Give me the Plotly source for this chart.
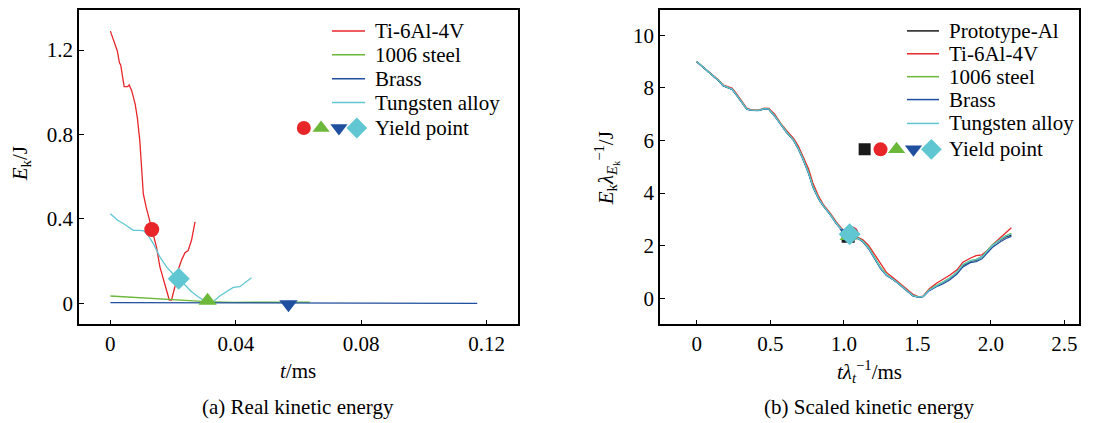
import plotly.graph_objects as go

FONT = "Liberation Serif, Times New Roman, Times, serif"
FS = 21

# ---------------- (a) Real kinetic energy ----------------
ti_t = [0, 0.0022, 0.0029, 0.0033, 0.0044, 0.0055, 0.006, 0.0068, 0.0079, 0.0086, 0.0094,
        0.0105, 0.0114, 0.0132, 0.0147, 0.0158, 0.0167, 0.0177, 0.0188, 0.0195, 0.0206,
        0.0216, 0.0227, 0.0238, 0.0248, 0.0259, 0.027]
ti_e = [1.29, 1.197, 1.14, 1.13, 1.027, 1.027, 1.035, 1.008, 0.945, 0.88, 0.77,
        0.52, 0.457, 0.35, 0.268, 0.173, 0.126, 0.079, 0.016, 0.016, 0.08,
        0.157, 0.205, 0.24, 0.25, 0.3, 0.386]

st_t = [0, 0.008, 0.018, 0.025, 0.0307, 0.039, 0.05, 0.0636]
st_e = [0.035, 0.028, 0.02, 0.013, 0.008, 0.005, 0.005, 0.006]

br_t = [0, 0.02, 0.04, 0.06, 0.08, 0.1, 0.117]
br_e = [0.004, 0.003, 0.002, 0.001, 0.0005, 0.0003, 0.0002]

tu_t = [0, 0.0023, 0.0045, 0.0073, 0.0094, 0.0107, 0.012, 0.0137, 0.0158, 0.0179, 0.02,
        0.0219, 0.0238, 0.0259, 0.028, 0.0301, 0.0328, 0.0349, 0.037, 0.0392, 0.0413,
        0.0434, 0.045]
tu_e = [0.425, 0.394, 0.375, 0.346, 0.346, 0.343, 0.323, 0.283, 0.22, 0.173, 0.139,
        0.117, 0.087, 0.055, 0.031, 0.011, 0.008, 0.035, 0.055, 0.076, 0.079,
        0.102, 0.121]

# yield points (a)
yp_a_t = [0.0132, 0.031, 0.0568, 0.0218]
yp_a_e = [0.35, 0.012, -0.004, 0.117]

# ---------------- (b) Scaled kinetic energy ----------------
sx = [0, 0.07, 0.15, 0.18, 0.21, 0.24, 0.27, 0.31, 0.34, 0.37, 0.42, 0.46, 0.49, 0.53,
      0.57, 0.61, 0.66, 0.69, 0.72, 0.76, 0.79, 0.83, 0.86, 0.91, 0.95, 1.0, 1.04, 1.07,
      1.10, 1.13, 1.17, 1.20, 1.25, 1.29, 1.34, 1.38, 1.43, 1.47, 1.51, 1.54, 1.58, 1.63,
      1.67, 1.72, 1.77, 1.81, 1.86, 1.90, 1.94, 1.97, 2.01, 2.06, 2.10, 2.14]
proto = [8.99, 8.67, 8.27, 8.08, 8.02, 7.95, 7.73, 7.42, 7.20, 7.15, 7.14, 7.21, 7.19, 6.93,
         6.60, 6.32, 6.00, 5.70, 5.33, 4.78, 4.25, 3.78, 3.52, 3.17, 2.84, 2.52, 2.40, 2.30,
         2.27, 2.16, 1.90, 1.60, 1.15, 0.88, 0.70, 0.52, 0.27, 0.10, 0.04, 0.07, 0.30, 0.47,
         0.58, 0.75, 0.98, 1.25, 1.40, 1.45, 1.58, 1.75, 2.00, 2.20, 2.33, 2.40]
ti_s = [8.99, 8.68, 8.29, 8.10, 8.04, 7.99, 7.78, 7.47, 7.23, 7.16, 7.15, 7.23, 7.22, 7.00,
        6.66, 6.38, 6.07, 5.80, 5.45, 4.92, 4.38, 3.86, 3.57, 3.22, 2.89, 2.56, 2.44, 2.32,
        2.30, 2.22, 2.00, 1.75, 1.30, 0.98, 0.76, 0.58, 0.35, 0.15, 0.05, 0.08, 0.35, 0.57,
        0.70, 0.87, 1.08, 1.37, 1.52, 1.62, 1.65, 1.78, 2.02, 2.28, 2.48, 2.68]
st_s = [8.99, 8.67, 8.27, 8.08, 8.02, 7.95, 7.74, 7.43, 7.20, 7.15, 7.14, 7.21, 7.19, 6.94,
        6.61, 6.33, 6.01, 5.71, 5.35, 4.80, 4.27, 3.79, 3.53, 3.18, 2.85, 2.53, 2.41, 2.31,
        2.28, 2.17, 1.92, 1.63, 1.18, 0.90, 0.71, 0.53, 0.28, 0.11, 0.04, 0.07, 0.31, 0.49,
        0.60, 0.77, 1.00, 1.28, 1.43, 1.48, 1.58, 1.76, 2.02, 2.22, 2.37, 2.47]
br_s = [8.99, 8.66, 8.26, 8.07, 8.01, 7.94, 7.72, 7.41, 7.19, 7.14, 7.13, 7.20, 7.18, 6.92,
        6.59, 6.31, 5.99, 5.68, 5.31, 4.75, 4.22, 3.76, 3.51, 3.16, 2.83, 2.51, 2.39, 2.29,
        2.26, 2.14, 1.87, 1.57, 1.12, 0.86, 0.69, 0.51, 0.26, 0.09, 0.03, 0.06, 0.28, 0.44,
        0.53, 0.69, 0.92, 1.19, 1.35, 1.39, 1.50, 1.68, 1.93, 2.13, 2.26, 2.35]
tu_s = [8.99, 8.67, 8.27, 8.08, 8.02, 7.95, 7.73, 7.42, 7.20, 7.15, 7.14, 7.21, 7.19, 6.93,
        6.60, 6.32, 6.00, 5.70, 5.33, 4.78, 4.25, 3.78, 3.52, 3.17, 2.84, 2.52, 2.40, 2.30,
        2.27, 2.16, 1.90, 1.60, 1.15, 0.88, 0.70, 0.52, 0.27, 0.10, 0.04, 0.07, 0.30, 0.47,
        0.58, 0.76, 0.99, 1.27, 1.42, 1.47, 1.57, 1.74, 2.00, 2.21, 2.36, 2.44]

# yield points (b): Prototype, Ti, steel, brass, tungsten
yp_b_x = [1.03, 1.05, 1.03, 1.03, 1.04]
yp_b_y = [2.36, 2.45, 2.36, 2.48, 2.43]

names_a = ["Ti-6Al-4V", "1006 steel", "Brass", "Tungsten alloy"]
names_b = ["Prototype-Al", "Ti-6Al-4V", "1006 steel", "Brass", "Tungsten alloy"]

RED = "#e8262a"
GREEN = "#6cb83a"
BLUE = "#1f4f9e"
CYAN = "#5fc6d2"
BLACK = "#1a1a1a"

# page body has an 8px margin: figure is drawn at offset (8, 8) in the window
OFF = 8
W, H = 1106 - OFF, 423 - OFF

def fx(px):
    return (px - OFF) / W

def fy(py):
    return min(1.0, 1 - (py - OFF) / H)

fig = go.Figure()

# ---- panel (a) curves
for tx, ey, col in [(ti_t, ti_e, RED), (st_t, st_e, GREEN), (br_t, br_e, BLUE), (tu_t, tu_e, CYAN)]:
    fig.add_trace(go.Scatter(x=tx, y=ey, mode="lines", line=dict(color=col, width=1.3),
                             xaxis="x", yaxis="y", showlegend=False))
sym_a = ["circle", "triangle-up", "triangle-down", "diamond"]
col_a = [RED, GREEN, BLUE, CYAN]
fig.add_trace(go.Scatter(x=yp_a_t, y=yp_a_e, mode="markers", opacity=1,
                         marker=dict(symbol=sym_a, color=col_a, size=[15, 16, 16, 17],
                                     opacity=1, line=dict(width=0)),
                         xaxis="x", yaxis="y", showlegend=False))

# ---- panel (b) curves
for ys, col in [(proto, BLACK), (ti_s, RED), (st_s, GREEN), (br_s, BLUE), (tu_s, CYAN)]:
    fig.add_trace(go.Scatter(x=sx, y=ys, mode="lines", line=dict(color=col, width=1.3),
                             xaxis="x2", yaxis="y2", showlegend=False))
sym_b = ["square", "circle", "triangle-up", "triangle-down", "diamond"]
col_b = [BLACK, RED, GREEN, BLUE, CYAN]
fig.add_trace(go.Scatter(x=yp_b_x, y=yp_b_y, mode="markers", opacity=1,
                         marker=dict(symbol=sym_b, color=col_b, size=[13, 15, 15, 15, 17],
                                     opacity=1, line=dict(width=0)),
                         xaxis="x2", yaxis="y2", showlegend=False))

annotations = []
shapes = []

ax_a = (79, 518, 8, 324)
ax_b = (660, 1079, 8, 324)

def dom(px, py, ax):
    x0, x1, y0, y1 = ax
    return (px - x0) / (x1 - x0), (y1 - py) / (y1 - y0)

def legend(ax, xref, yref, names, cols, rows, lx0, lx1, tx, yrow):
    for nm, col, ry in zip(names, cols, rows):
        a0, b0 = dom(lx0, ry, ax)
        a1, _ = dom(lx1, ry, ax)
        shapes.append(dict(type="line", xref=xref + " domain", yref=yref + " domain",
                           x0=a0, x1=a1, y0=b0, y1=b0, line=dict(color=col, width=1.5)))
        at, _ = dom(tx, ry, ax)
        annotations.append(dict(text=nm, xref=xref + " domain", yref=yref + " domain",
                                x=at, y=b0, xanchor="left", yanchor="middle", showarrow=False,
                                font=dict(family=FONT, size=FS, color="black")))
    at, bt = dom(tx, yrow, ax)
    annotations.append(dict(text="Yield point", xref=xref + " domain", yref=yref + " domain",
                            x=at, y=bt, xanchor="left", yanchor="middle", showarrow=False,
                            font=dict(family=FONT, size=FS, color="black")))

legend(ax_a, "x", "y", names_a, col_a, [29, 53, 77, 101], 332, 365, 373, 127)
legend(ax_b, "x2", "y2", names_b, col_b, [29, 52, 75, 98, 122], 907, 939, 947, 148)

# legend yield markers drawn on the data axes
leg_a_x = [0.0617, 0.0672, 0.0729, 0.0786]
leg_a_y = [0.831, 0.831, 0.831, 0.831]
fig.add_trace(go.Scatter(x=leg_a_x, y=leg_a_y, mode="markers", opacity=1,
                         marker=dict(symbol=sym_a, color=col_a, size=[14, 15, 15, 16],
                                     opacity=1, line=dict(width=0)),
                         xaxis="x", yaxis="y", showlegend=False, hoverinfo="skip"))
leg_b_x = [1.142, 1.25, 1.359, 1.474, 1.596]
leg_b_y = [5.66] * 5
fig.add_trace(go.Scatter(x=leg_b_x, y=leg_b_y, mode="markers", opacity=1,
                         marker=dict(symbol=sym_b, color=col_b, size=[12, 14, 15, 15, 16],
                                     opacity=1, line=dict(width=0)),
                         xaxis="x2", yaxis="y2", showlegend=False, hoverinfo="skip"))

# ---- axis titles and captions
def pap(text, px, py, angle=0):
    annotations.append(dict(text=text, xref="paper", yref="paper", x=fx(px), y=fy(py),
                            xanchor="center", yanchor="middle", showarrow=False, textangle=angle,
                            font=dict(family=FONT, size=FS, color="black")))

pap("<i>t</i>/ms", 298, 371)
pap("(a) Real kinetic energy", 298, 407)
pap("<i>E</i><sub>k</sub>/J", 21, 163, -90)
pap("<i>tλ</i><sub><i>t</i></sub><sup>−1</sup>/ms", 870, 371)
pap("(b) Scaled kinetic energy", 870, 407)
pap("<i>E</i><sub>k</sub><i>λ</i><sub><i>E</i><sub>k</sub></sub><sup>−1</sup>/J", 606, 167, -90)

axcommon = dict(showline=True, linecolor="black", linewidth=1.5, mirror=True, ticks="inside",
                ticklen=5, tickwidth=1.2, tickcolor="black", showgrid=False, zeroline=False,
                tickfont=dict(family=FONT, size=FS, color="black"), fixedrange=True)

fig.update_layout(
    width=W, height=H, margin=dict(l=0, r=0, t=0, b=0),
    paper_bgcolor="white", plot_bgcolor="white", showlegend=False,
    xaxis=dict(domain=[fx(79), fx(518)], range=[-0.01, 0.13], anchor="y",
               tickvals=[0, 0.04, 0.08, 0.12], ticktext=["0", "0.04", "0.08", "0.12"], **axcommon),
    yaxis=dict(domain=[fy(324), fy(8)], range=[-0.1, 1.39], anchor="x",
               tickvals=[0, 0.4, 0.8, 1.2], ticktext=["0", "0.4", "0.8", "1.2"], **axcommon),
    xaxis2=dict(domain=[fx(660), fx(1079)], range=[-0.25, 2.6], anchor="y2",
                tickvals=[0, 0.5, 1.0, 1.5, 2.0, 2.5], ticktext=["0", "0.5", "1.0", "1.5", "2.0", "2.5"],
                **axcommon),
    yaxis2=dict(domain=[fy(324), fy(8)], range=[-1, 10.96], anchor="x2",
                tickvals=[0, 2, 4, 6, 8, 10], ticktext=["0", "2", "4", "6", "8", "10"], **axcommon),
    annotations=annotations, shapes=shapes,
    font=dict(family=FONT, size=FS, color="black"),
)

fig.write_html("out.html")
